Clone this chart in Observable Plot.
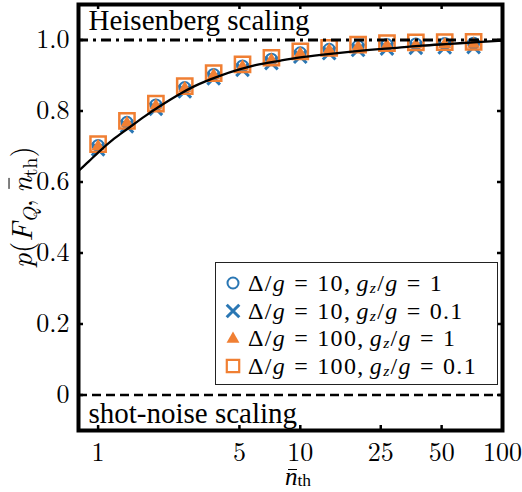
<!DOCTYPE html>
<html><head><meta charset="utf-8">
<script src="https://cdn.jsdelivr.net/npm/d3@7"></script>
<script src="https://cdn.jsdelivr.net/npm/@observablehq/plot@0.6"></script>
<style>
body{margin:0;background:#fff;}
#wrap{position:relative;width:522px;height:492px;font-family:"Latin Modern Roman","Liberation Serif",serif;color:#000;}
.lab{position:absolute;white-space:nowrap;line-height:1;}
.sb{font-size:0.7em;vertical-align:-0.28em;}
.nbar{position:relative;font-style:italic;}
.nbar::before{content:"";position:absolute;left:0.12em;right:0.04em;top:0.36em;border-top:0.05em solid #000;}
#xt .nbar::before{top:0.22em;}
#legend{position:absolute;left:215px;top:262px;width:283px;height:123px;border:1.5px solid #222;background:#fff;box-sizing:border-box;}
.row{position:absolute;left:8px;height:24px;line-height:1;display:flex;align-items:center;font-family:"Liberation Serif",serif;font-size:24px;letter-spacing:0.055em;white-space:nowrap;}
.row svg{width:18px;height:18px;margin-right:6px;overflow:visible;}
.row .sz{font-size:0.65em;vertical-align:-0.12em;}
.eq{margin:0 0.34em;}
.cm{margin-right:0.22em;}
</style></head><body><div id="wrap"></div>
<script>
// ---- data ----
const nth = [1, 1.389, 1.931, 2.683, 3.728, 5.179, 7.197, 10, 13.89, 19.31, 26.83, 37.28, 51.79, 71.97];
const pCircle   = [0.703, 0.768, 0.817, 0.866, 0.903, 0.927, 0.946, 0.964, 0.974, 0.983, 0.987, 0.989, 0.990, 0.991];
const pCross    = [0.692, 0.757, 0.806, 0.855, 0.892, 0.916, 0.935, 0.953, 0.963, 0.972, 0.976, 0.978, 0.979, 0.980];
const pTriangle = [0.701, 0.766, 0.815, 0.864, 0.901, 0.925, 0.944, 0.962, 0.972, 0.981, 0.985, 0.987, 0.988, 0.989];
const pSquare   = [0.707, 0.772, 0.821, 0.870, 0.907, 0.931, 0.950, 0.968, 0.978, 0.987, 0.991, 0.993, 0.994, 0.995];
const curveN = [0.8, 0.9, 1, 1.2, 1.4, 1.7, 2, 2.5, 3, 4, 5, 6, 8, 10, 13, 17, 22, 30, 40, 55, 75, 100];
const curveP = [0.631, 0.658, 0.683, 0.722, 0.750, 0.785, 0.812, 0.846, 0.870, 0.899, 0.917, 0.929, 0.942, 0.951, 0.959, 0.966, 0.972, 0.978, 0.984, 0.989, 0.994, 0.998];
const xTicks = [1, 5, 10, 25, 50, 100];
const xTickLabels = ["1", "5", "10", "25", "50", "100"];
const yTicks = [0, 0.2, 0.4, 0.6, 0.8, 1.0];
const yTickLabels = ["0", "0.2", "0.4", "0.6", "0.8", "1.0"];
const heisenbergLevel = [1];
const shotNoiseLevel = [0];
const seriesLabels = [
  ["10", "1"], ["10", "0.1"], ["100", "1"], ["100", "0.1"]
];
const blue = "#2a77b4", orange = "#f07f33";
const lm = '"Latin Modern Roman", "Liberation Serif", serif';
const times = '"Liberation Serif", serif';

const pts = arr => nth.map((n, i) => ({n, p: arr[i]}));
const curve = curveN.map((n, i) => ({n, p: curveP[i]}));

const chart = Plot.plot({
  width: 522, height: 492,
  marginLeft: 78, marginRight: 20, marginTop: 4, marginBottom: 62,
  style: {fontFamily: lm, background: "white", color: "black"},
  x: {type: "log", domain: [0.8, 100], axis: null},
  y: {domain: [-0.1, 1.1]},
  marks: [
    Plot.dot(pts(pCircle), {x: "n", y: "p", symbol: "circle", r: 5.5, stroke: blue, strokeWidth: 2, fill: "none"}),
    Plot.dot(pts(pCross), {x: "n", y: "p", symbol: "times", r: 5.8, stroke: blue, strokeWidth: 3}),
    Plot.dot(pts(pTriangle), {x: "n", y: "p", symbol: "triangle", r: 4.8, fill: orange, stroke: "none"}),
    Plot.dot(pts(pSquare), {x: "n", y: "p", symbol: "square", r: 8.6, stroke: orange, strokeWidth: 2.5, fill: "none"}),
    Plot.line(curve, {x: "n", y: "p", curve: "monotone-x", stroke: "black", strokeWidth: 2.3}),
    Plot.ruleY(heisenbergLevel, {stroke: "black", strokeWidth: 3, strokeDasharray: "10,5,3,5"}),
    Plot.ruleY(shotNoiseLevel, {stroke: "black", strokeWidth: 2.5, strokeDasharray: "9,5"}),
    Plot.text(["Heisenberg scaling"], {frameAnchor: "top-left", textAnchor: "start", lineAnchor: "top", dx: 10, dy: 5, fontSize: 29, fontFamily: times}),
    Plot.text(["shot-noise scaling"], {frameAnchor: "bottom-left", textAnchor: "start", lineAnchor: "bottom", dx: 10, dy: -8, fontSize: 29, fontFamily: times}),
    Plot.ruleX(xTicks, {x: d => d, insetTop: 421, stroke: "black", strokeWidth: 2.5}),
    Plot.ruleX(xTicks, {x: d => d, insetBottom: 421, stroke: "black", strokeWidth: 2.5}),
    Plot.ruleY(yTicks, {y: d => d, insetRight: 419, stroke: "black", strokeWidth: 2.5}),
    Plot.ruleY(yTicks, {y: d => d, insetLeft: 419, stroke: "black", strokeWidth: 2.5}),
    Plot.text(xTicks, {x: d => d, frameAnchor: "bottom", lineAnchor: "top", dy: 12, text: (d, i) => xTickLabels[i], fontSize: 26, fontFamily: lm}),
    Plot.axisY(yTicks, {anchor: "left", tickSize: 0, tickPadding: 9, fontSize: 26, fontFamily: lm, tickFormat: d => yTickLabels[yTicks.indexOf(d)], label: null}),
    Plot.frame({stroke: "black", strokeWidth: 4})
  ]
});
const wrap = document.getElementById("wrap");
wrap.appendChild(chart);

// axis titles
const yt = document.createElement("div");
yt.className = "lab";
yt.style.cssText = "left:22px;top:207px;font-size:29px;transform:translate(-50%,-50%) rotate(-90deg);";
yt.innerHTML = '<i>p</i>(<i>F</i><span class="sb"><i>Q</i></span>,<span class="cm"></span><span class="nbar">n</span><span class="sb">th</span>)';
wrap.appendChild(yt);

const xt = document.createElement("div");
xt.id = "xt";
xt.className = "lab";
xt.style.cssText = "left:285px;top:464px;font-size:25px;font-family:'Liberation Serif',serif;";
xt.innerHTML = '<span class="nbar">n</span><span style="font-size:0.7em;vertical-align:-0.06em">th</span>';
wrap.appendChild(xt);

// legend
const leg = document.createElement("div");
leg.id = "legend";
wrap.appendChild(leg);
const symDefs = [
  {type: d3.symbolCircle, size: Math.PI * 5.5 * 5.5, fill: "none", stroke: blue, sw: 2},
  {type: d3.symbolTimes, size: Math.PI * 5.8 * 5.8, fill: "none", stroke: blue, sw: 3},
  {type: d3.symbolTriangle, size: Math.PI * 4.8 * 4.8, fill: orange, stroke: "none", sw: 0},
  {type: d3.symbolSquare, size: Math.PI * 7 * 7, fill: "none", stroke: orange, sw: 2.2}
];
seriesLabels.forEach(([dg, gz], i) => {
  const row = document.createElement("div");
  row.className = "row";
  row.style.top = (8 + i * 27.8) + "px";
  const s = symDefs[i];
  row.innerHTML = `<svg viewBox="-9 -9 18 18"><path d="${d3.symbol(s.type, s.size)()}" fill="${s.fill}" stroke="${s.stroke}" stroke-width="${s.sw}"/></svg>` +
    `<span>Δ/<i>g</i><span class="eq">=</span>${dg},<span class="cm"></span><i>g</i><span class="sz"><i>z</i></span>/<i>g</i><span class="eq">=</span>${gz}</span>`;
  leg.appendChild(row);
});
</script>
</body></html>
